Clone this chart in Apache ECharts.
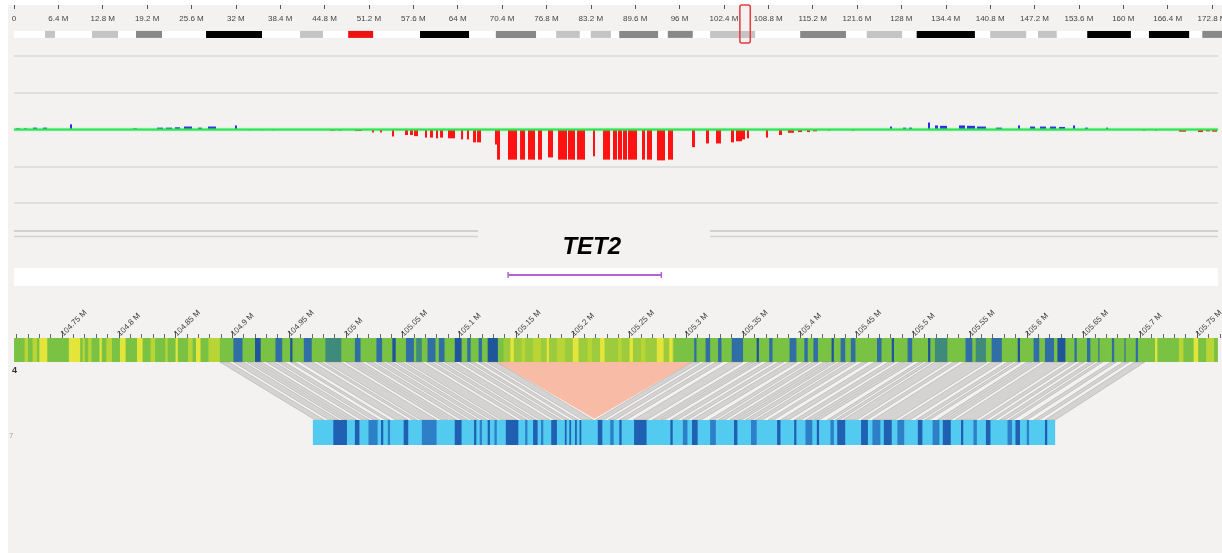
<!DOCTYPE html>
<html><head><meta charset="utf-8">
<script src="https://cdn.jsdelivr.net/npm/echarts@6/dist/echarts.min.js"></script>
<style>html,body{margin:0;padding:0;background:#fff;}#c{width:1222px;height:553px;}</style>
</head><body><div id="c"></div>
<script>
// ---------------- DATA ----------------
// chromosome 4 ideogram bands (Mb)
const cytoBands = [
 [4.47,5.91,'gpos25'],[11.25,15.0,'gpos25'],[17.6,21.35,'gpos75'],[27.7,35.77,'gpos100'],
 [41.25,44.57,'gpos25'],[48.2,51.8,'acen'],[58.56,65.63,'gpos100'],[69.5,75.3,'gpos75'],
 [78.2,81.6,'gpos25'],[83.2,86.1,'gpos25'],[87.3,92.9,'gpos75'],[94.3,97.9,'gpos75'],
 [100.4,106.9,'gpos25'],[113.4,120.0,'gpos75'],[123.0,128.1,'gpos25'],[130.2,138.6,'gpos100'],
 [140.8,146.0,'gpos25'],[147.7,150.4,'gpos25'],[154.8,161.1,'gpos100'],[163.7,169.5,'gpos100'],
 [171.4,174.24,'gpos75']
];
const chromExtent = [0, 174.24];
const viewedRegion = [104.7, 106.2];
// copy number (log ratio) segments: [start Mb, end Mb, value]
const cnLoss = [
 [33.9,34.2,-0.02],[35.6,35.9,-0.02],[37.2,37.5,-0.02],[45.6,46.3,-0.03],[46.8,47.2,-0.03],
 [49.18,50.20,-0.04],[51.64,51.92,-0.08],[52.79,53.08,-0.08],[54.52,54.81,-0.19],[56.40,56.83,-0.15],
 [57.12,57.55,-0.15],[57.70,58.27,-0.18],[59.28,59.57,-0.22],[60.00,60.43,-0.22],[60.87,61.16,-0.24],
 [61.45,61.88,-0.22],[62.60,63.61,-0.24],[64.48,64.77,-0.27],[65.34,65.63,-0.27],[66.21,66.64,-0.35],
 [66.78,67.36,-0.35],[69.38,69.67,-0.41],[69.67,70.10,-0.82],[71.25,72.55,-0.82],[72.99,73.71,-0.82],
 [74.14,75.15,-0.82],[75.58,76.16,-0.82],[77.02,77.74,-0.76],[78.47,79.76,-0.82],[79.91,80.92,-0.82],
 [81.21,82.36,-0.82],[83.51,83.80,-0.73],[84.96,85.97,-0.82],[86.40,86.98,-0.82],[87.12,87.70,-0.82],
 [87.84,88.42,-0.82],[88.56,89.86,-0.82],[90.58,91.01,-0.82],[91.30,92.02,-0.82],[92.74,93.90,-0.84],
 [94.33,95.05,-0.82],[97.79,98.22,-0.48],[99.81,100.24,-0.38],[101.25,101.97,-0.38],[103.42,103.85,-0.35],
 [104.14,105.00,-0.32],[105.00,105.44,-0.27],[105.72,106.01,-0.24],[108.46,108.75,-0.22],[110.34,110.77,-0.15],
 [111.63,112.50,-0.09],[113.08,113.66,-0.07],[114.38,114.81,-0.07],[115.24,115.82,-0.05],[117.41,117.70,-0.03],
 [120.87,121.16,-0.03],[162.84,163.13,-0.03],[164.57,164.86,-0.03],[168.04,169.05,-0.06],[170.78,171.50,-0.07],
 [171.93,172.51,-0.05],[172.80,173.52,-0.06]
];
const cnGain = [
 [0.29,0.87,0.03],[1.44,1.88,0.03],[2.74,3.32,0.05],[4.18,4.76,0.05],[8.08,8.37,0.14],[17.16,17.74,0.03],
 [20.63,21.49,0.05],[21.92,22.79,0.05],[23.22,23.94,0.06],[24.52,25.67,0.08],[26.54,27.12,0.05],
 [27.98,29.13,0.08],[31.87,32.16,0.11],[126.35,126.64,0.08],[128.22,128.65,0.05],[129.09,129.52,0.05],
 [131.83,132.12,0.19],[132.84,133.27,0.11],[133.56,134.57,0.10],[136.30,137.17,0.11],[137.46,138.61,0.10],
 [138.90,140.20,0.08],[141.64,142.51,0.05],[144.81,145.10,0.11],[146.55,147.27,0.08],[147.99,148.85,0.08],
 [149.43,150.30,0.08],[150.74,151.60,0.07],[152.75,153.04,0.11],[154.48,154.91,0.05],[157.51,157.80,0.05]
];
const cnExtent = [0, 173.66];
// zoomed region (kb)
const zoomExtent = [104707.7, 105768.4];
const zoomTicks = {min:104700, max:105800, step:50};
const geneNames = ['TET2'];
const geneStarts = [105143];
const geneEnds = [105278];
const labelGap = [105116.5, 105320.9];
// heatmap stripes: [start kb, end kb, level] 1 lime,2 yellow,3 blue,4 dark blue,5 teal,6 light green
const heatStripes = [
 [105139,105289,6],
 [104717,104720,1],[104724,104728,1],[104730,104737,2],[104756,104766,2],[104768,104770,1],[104773,104776,1],
 [104783,104785,2],[104789,104794,1],[104801,104806,2],[104816,104821,2],[104828,104832,1],[104841,104843,1],
 [104850,104852,2],[104861,104865,1],[104868,104872,2],[104879,104889,1],
 [104901,104909,3],[104920,104925,4],[104938,104944,3],[104951,104953,4],[104963,104970,3],[104982,104996,5],
 [105008,105013,3],[105027,105032,3],[105041,105044,4],[105053,105060,3],[105062,105067,5],[105072,105079,3],
 [105082,105087,3],[105096,105102,4],[105107,105110,3],[105117,105120,3],[105125,105134,4],
 [105145,105148,2],[105155,105158,1],[105165,105172,1],[105177,105179,2],[105186,105193,1],[105200,105205,2],
 [105213,105217,1],[105224,105228,2],[105240,105243,1],[105250,105253,2],[105260,105264,1],[105274,105280,2],
 [105285,105288,2],
 [105307,105309,3],[105317,105321,3],[105328,105331,3],[105340,105350,3],[105362,105364,4],[105373,105376,3],
 [105391,105397,3],[105404,105407,3],[105412,105416,3],[105428,105430,4],[105436,105440,3],[105445,105449,3],
 [105468,105472,3],[105481,105483,4],[105495,105499,3],[105513,105515,4],[105519,105530,5],[105546,105552,3],
 [105555,105564,5],[105569,105578,3],[105592,105594,4],[105606,105611,3],[105616,105624,3],[105627,105634,4],
 [105642,105644,3],[105653,105656,3],[105663,105664,3],[105675,105677,3],[105686,105687,3],[105696,105698,3],
 [105713,105715,2],[105734,105738,1],[105747,105751,2],[105758,105765,1]
];
// alignment blocks: [top start, top end, bottom start, bottom end] kb
const links = [
 [104889,104897,104973,104981],[104901,104910,104985,104994],[104913,104918,104997,105002],[104920,104926,105004,105010],
 [104930,104937,105014,105021],[104940,104946,105024,105030],[104951,104955,105035,105039],[104960,104971,105044,105055],
 [104975,104979,105059,105063],[104982,104996,105066,105080],[105000,105006,105084,105090],[105008,105014,105092,105098],
 [105018,105024,105102,105108],[105027,105033,105111,105117],[105036,105041,105120,105125],[105044,105050,105128,105134],
 [105053,105067,105137,105151],[105071,105076,105155,105160],[105079,105084,105163,105168],[105087,105096,105171,105180],
 [105100,105106,105184,105190],[105109,105113,105193,105197],[105117,105121,105201,105205],[105124,105133,105209,105218],
 [105305,105312,105220,105227],[105316,105322,105231,105237],[105326,105332,105241,105247],[105338,105350,105253,105265],
 [105355,105360,105270,105275],[105362,105366,105277,105281],[105371,105377,105286,105292],[105381,105386,105296,105301],
 [105390,105398,105305,105313],[105403,105408,105320,105325],[105411,105417,105328,105334],[105421,105426,105338,105343],
 [105428,105432,105345,105349],[105435,105441,105352,105358],[105444,105450,105361,105367],[105455,105460,105372,105377],
 [105466,105473,105383,105390],[105478,105484,105395,105401],[105488,105493,105405,105410],[105495,105500,105412,105417],
 [105505,105509,105424,105428],[105512,105516,105431,105435],[105519,105531,105438,105450],[105535,105540,105454,105459],
 [105545,105565,105464,105484],[105569,105578,105488,105497],[105583,105588,105502,105507],[105591,105595,105510,105514],
 [105600,105605,105521,105526],[105607,105612,105528,105533],[105616,105634,105537,105555],[105638,105643,105559,105564],
 [105647,105651,105568,105572],[105655,105660,105576,105581],[105663,105667,105584,105588],[105674,105679,105595,105600],
 [105685,105690,105606,105611],[105695,105704,105616,105625]
];
const deletion = [105133, 105305, 105219];
const queryExtent = [104971, 105625];
const blueStripes = [
 [104989,105001,1],[105008,105012,1],[105020,105028,2],[105031,105033,1],[105037,105039,2],[105051,105055,1],
 [105067,105080,2],[105096,105102,1],[105113,105115,1],[105118,105120,2],[105125,105127,1],[105131,105133,2],
 [105141,105152,1],[105158,105160,2],[105165,105169,1],[105172,105174,2],[105181,105186,1],[105193,105194.5,1],
 [105197,105198.5,1],[105202,105203.5,1],[105206,105207.5,1],[105222,105226,1],[105233,105236,2],[105241,105243,1],
 [105254,105265,1],[105286,105288,1],[105297,105301,2],[105305,105310,1],[105321,105326,2],[105342,105345,1],
 [105357,105362,2],[105380,105383,1],[105395,105397,1],[105405,105411,2],[105415,105417,1],[105427,105430,2],
 [105433,105440,1],[105454,105460,1],[105464,105471,2],[105474,105481,1],[105486,105492,2],[105504,105508,1],
 [105517,105523,2],[105526,105533,1],[105542,105544,1],[105553,105556,2],[105564,105568,1],[105583,105587,2],
 [105590,105594,1],[105600,105602,2],[105616,105618,1]
];
const trackLabels = ['4', '7'];

// ---------------- STYLE ----------------
const FONT = 'Liberation Sans, Arial, sans-serif';
const stainColor = {gneg:'#ffffff', gpos25:'#c4c4c4', gpos50:'#a0a0a0', gpos75:'#888888', gpos100:'#000000', acen:'#ee1111'};
const heatColor = {1:'#b9d535', 2:'#e3e53b', 3:'#2f6fa6', 4:'#1f559a', 5:'#3e8b7b', 6:'#9ccb3e'};
const blueColor = {1:'#1f60b2', 2:'#2d7fc8'};

const chart = echarts.init(document.getElementById('c'));

function rectSeries(axis, data, y0, y1, fillFn) {
  return {
    type:'custom', xAxisIndex:axis, yAxisIndex:axis, data:data.map(d=>[d[0],d[1]]), silent:true, clip:false,
    encode:{x:[0,1]},
    renderItem:(params, api) => {
      const d = data[params.dataIndex];
      const a = api.coord([d[0], y1]), b = api.coord([d[1], y0]);
      return {type:'rect', shape:{x:a[0], y:Math.min(a[1],b[1]), width:Math.max(b[0]-a[0],1), height:Math.abs(b[1]-a[1])},
              style:{fill:fillFn(d)}};
    }
  };
}
function cnSeries(data, color) {
  return {
    type:'custom', xAxisIndex:1, yAxisIndex:1, data:data.map(d=>[d[0],d[1]]), silent:true, clip:false, encode:{x:[0,1]},
    renderItem:(params, api) => {
      const d = data[params.dataIndex];
      const a = api.coord([d[0], 0]), b = api.coord([d[1], d[2]]);
      return {type:'rect', shape:{x:a[0], y:Math.min(a[1],b[1]), width:Math.max(b[0]-a[0],1.2), height:Math.abs(b[1]-a[1])},
              style:{fill:color}};
    }
  };
}
const kbFmt = v => (v < zoomTicks.min + 40 || v > zoomExtent[1]) ? '' : (+(v/1000).toFixed(2)) + ' M';
function kbX(grid, show) {
  const ax = {gridIndex:grid, type:'value', min:zoomTicks.min, max:zoomTicks.max, interval:zoomTicks.step, show:show};
  if (show) Object.assign(ax, {
    position:'top', axisLine:{show:false, onZero:false},
    axisTick:{show:true, length:7, interval:0, lineStyle:{color:'#555', width:1}},
    minorTick:{show:true, splitNumber:5, length:4, lineStyle:{color:'#666', width:1}},
    axisLabel:{show:true, rotate:-45, interval:0, margin:3, fontSize:8, color:'#444', fontFamily:FONT, formatter:kbFmt},
    splitLine:{show:false}
  });
  return ax;
}
const kbGrid = top => ({left:5.3, width:1248.5, top:top.t, height:top.h, outerBoundsMode:'none', containLabel:false});

const option = {
  animation:false,
  backgroundColor:'#ffffff',
  graphic:[
    {type:'rect', left:8, top:5, shape:{width:1214, height:548}, style:{fill:'#f3f2f1'}, z:-10, silent:true},
    {type:'rect', left:0, top:0, shape:{width:8, height:553}, style:{fill:'#ffffff'}, z:100, silent:true},
    {type:'text', left:12, top:366, style:{text:trackLabels[0], fontSize:9, fontWeight:'bold', fill:'#333', fontFamily:FONT}, z:101},
    {type:'text', left:9, top:432, style:{text:trackLabels[1], fontSize:8, fill:'#aaa', fontFamily:FONT}, z:101}
  ],
  grid:[
    {left:14, right:0, top:5, height:35, outerBoundsMode:'none', containLabel:false},
    {left:14, right:4, top:56, height:147, outerBoundsMode:'none', containLabel:false},
    kbGrid({t:225, h:65}),
    kbGrid({t:338, h:24}),
    kbGrid({t:362, h:58}),
    kbGrid({t:420, h:25})
  ],
  xAxis:[
    {gridIndex:0, type:'value', min:chromExtent[0], max:chromExtent[1], interval:6.4, position:'top',
     axisLine:{show:false, onZero:false}, splitLine:{show:false},
     axisTick:{show:true, inside:true, length:4, interval:0, lineStyle:{color:'#555'}},
     axisLabel:{inside:true, margin:10, interval:0, fontSize:8, color:'#444', fontFamily:FONT,
       formatter: v => v > 173 ? '' : (v === 0 ? '0' : (+v.toFixed(1)) + ' M')}},
    {gridIndex:1, type:'value', min:cnExtent[0], max:cnExtent[1], show:false},
    kbX(2,false), kbX(3,true), kbX(4,false), kbX(5,false)
  ],
  yAxis:[
    {gridIndex:0, min:0, max:1, show:false},
    {gridIndex:1, min:-2, max:2, interval:1, axisLine:{show:false}, axisTick:{show:false}, axisLabel:{show:false},
     splitLine:{show:true, lineStyle:{color:'#d8d8d8', width:1.5}}},
    {gridIndex:2, min:0, max:65, inverse:true, show:false},
    {gridIndex:3, min:0, max:1, show:false},
    {gridIndex:4, min:0, max:1, show:false},
    {gridIndex:5, min:0, max:1, show:false}
  ],
  series:[
    // ideogram
    rectSeries(0, [chromExtent], 0.06, 0.26, () => '#ffffff'),
    rectSeries(0, cytoBands, 0.06, 0.26, d => stainColor[d[2]]),
    {type:'custom', xAxisIndex:0, yAxisIndex:0, data:[viewedRegion], silent:true, clip:false, encode:{x:[0,1]}, z:5,
     renderItem:(p, api) => {
       const a = api.coord([viewedRegion[0], 1]), b = api.coord([viewedRegion[1], 0]);
       return {type:'rect', shape:{x:a[0], y:a[1], width:b[0]-a[0], height:b[1]-a[1]+3, r:2},
               style:{fill:'none', stroke:'#e8393b', lineWidth:1.5}};
     }},
    // copy number
    cnSeries(cnLoss, '#ff1212'),
    cnSeries(cnGain, '#2a2ae0'),
    {type:'line', xAxisIndex:1, yAxisIndex:1, data:[[cnExtent[0],0],[cnExtent[1],0]], symbol:'none', silent:true,
     lineStyle:{color:'#2be653', width:2, shadowColor:'rgba(60,240,90,0.6)', shadowBlur:2}, z:4},
    // gene track
    {type:'custom', xAxisIndex:2, yAxisIndex:2, data:[[zoomExtent[0],labelGap[0]],[labelGap[1],zoomExtent[1]]], silent:true, clip:false, encode:{x:[0,1]},
     renderItem:(p, api) => {
       const s = p.dataIndex === 0 ? zoomExtent[0] : labelGap[1];
       const e = p.dataIndex === 0 ? labelGap[0] : zoomExtent[1];
       const a1 = api.coord([s, 6]), b1 = api.coord([e, 6]);
       const a2 = api.coord([s, 11.5]), b2 = api.coord([e, 11.5]);
       return {type:'group', children:[
         {type:'line', shape:{x1:a1[0], y1:a1[1], x2:b1[0], y2:b1[1]}, style:{stroke:'#c4c4c4', lineWidth:1.5}},
         {type:'line', shape:{x1:a2[0], y1:a2[1], x2:b2[0], y2:b2[1]}, style:{stroke:'#d2d2d2', lineWidth:1.5}}
       ]};
     }},
    rectSeries(2, [zoomExtent], 61, 43, () => '#ffffff'),
    {type:'custom', xAxisIndex:2, yAxisIndex:2, data:geneNames.map((n,i)=>[geneStarts[i], geneEnds[i]]), silent:true, clip:false, encode:{x:[0,1]}, z:6,
     renderItem:(p, api) => {
       const i = p.dataIndex;
       const a = api.coord([geneStarts[i], 50]), b = api.coord([geneEnds[i], 50]);
       const t = api.coord([(geneStarts[i]+geneEnds[i])/2, 22]);
       return {type:'group', children:[
         {type:'line', shape:{x1:a[0], y1:a[1], x2:b[0], y2:b[1]}, style:{stroke:'#b562d2', lineWidth:2}},
         {type:'line', shape:{x1:a[0], y1:a[1]-3, x2:a[0], y2:a[1]+3}, style:{stroke:'#b562d2', lineWidth:1.5}},
         {type:'line', shape:{x1:b[0], y1:b[1]-3, x2:b[0], y2:b[1]+3}, style:{stroke:'#b562d2', lineWidth:1.5}},
         {type:'text', x:t[0]+7, y:t[1], style:{text:geneNames[i], fontSize:24, fontWeight:'bold', fontStyle:'italic',
            fontFamily:FONT, fill:'#000', align:'center', verticalAlign:'middle'}}
       ]};
     }},
    // heatmap
    rectSeries(3, [zoomExtent], 0, 1, () => '#7ac243'),
    rectSeries(3, heatStripes, 0, 1, d => heatColor[d[2]]),
    // deletion triangle and links
    {type:'custom', xAxisIndex:4, yAxisIndex:4, data:[[deletion[0], deletion[1]]], silent:true, clip:false, encode:{x:[0,1]},
     renderItem:(p, api) => {
       const a = api.coord([deletion[0],1]), b = api.coord([deletion[1],1]), c = api.coord([deletion[2],0.02]);
       return {type:'polygon', shape:{points:[a,b,c]}, style:{fill:'#f8bba6'}};
     }},
    {type:'custom', xAxisIndex:4, yAxisIndex:4, data:links.map(d=>[d[0],d[1]]), silent:true, clip:false, encode:{x:[0,1]},
     renderItem:(p, api) => {
       const d = links[p.dataIndex];
       return {type:'polygon', shape:{points:[api.coord([d[0],1]), api.coord([d[1],1]), api.coord([d[3],0]), api.coord([d[2],0])]},
               style:{fill:'rgba(150,150,150,0.33)', stroke:'rgba(135,135,135,0.45)', lineWidth:0.7}};
     }},
    // query (blue) track
    rectSeries(5, [queryExtent], 0, 1, () => '#53caef'),
    rectSeries(5, blueStripes, 0, 1, d => blueColor[d[2]])
  ]
};
chart.setOption(option);
</script></body></html>
